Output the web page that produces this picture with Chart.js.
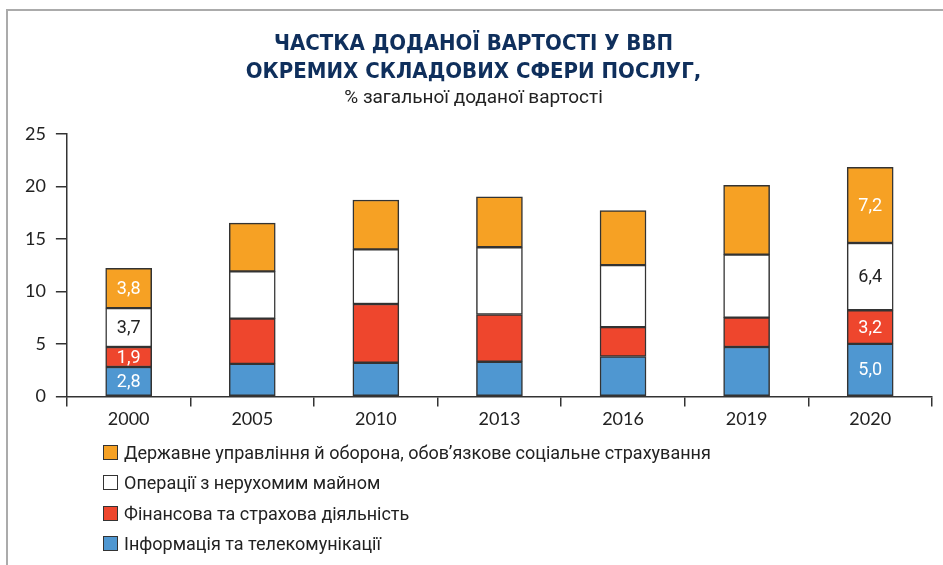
<!DOCTYPE html>
<html lang="uk">
<head>
<meta charset="utf-8">
<title>Частка доданої вартості у ВВП</title>
<script src="https://cdn.jsdelivr.net/npm/chart.js@4/dist/chart.umd.min.js"></script>
<style>
  body { margin: 0; background: #fff; overflow: hidden; }
  .wrap { position: relative; width: 943px; height: 565px; }
  .frame {
    position: absolute; left: 6px; top: 9px; width: 1000px; height: 600px;
    border-left: 2px solid #ababab; border-top: 2px solid #ababab;
  }
  canvas { position: absolute; left: 0; top: 0; }
  #legend {
    position: absolute; left: 103px; top: 437px;
    font-family: Roboto, sans-serif; font-size: 18px; color: #222;
  }
  #legend div { display: flex; align-items: center; height: 30.5px; }
  #legend span.box {
    display: inline-block; width: 13px; height: 13px; margin-right: 6px;
    border: 1px solid #333;
  }
</style>
</head>
<body>
<div class="wrap">
  <div class="frame"></div>
  <canvas id="chart" width="943" height="565"></canvas>
  <div id="legend"></div>
</div>
<script>
const years = ['2000', '2005', '2010', '2013', '2016', '2019', '2020'];

const info = [2.8, 3.1, 3.2, 3.3, 3.8, 4.7, 5.0];
const finance = [1.9, 4.3, 5.6, 4.5, 2.8, 2.8, 3.2];
const realEstate = [3.7, 4.5, 5.2, 6.4, 5.9, 6.0, 6.4];
const government = [3.8, 4.6, 4.7, 4.8, 5.2, 6.6, 7.2];

const yTicks = [0, 5, 10, 15, 20, 25];

// only the first and last bar carry value labels
const labelled = [0, 6];

const ctx = document.getElementById('chart');

const valueLabels = {
  id: 'valueLabels',
  afterDatasetsDraw (chart) {
    const c = chart.ctx;
    c.save();
    c.font = '18px Roboto, sans-serif';
    c.textAlign = 'center';
    c.textBaseline = 'middle';
    chart.data.datasets.forEach((ds, i) => {
      const meta = chart.getDatasetMeta(i);
      labelled.forEach(j => {
        const bar = meta.data[j];
        c.fillStyle = ds.labelColor;
        c.fillText(ds.data[j].toFixed(1).replace('.', ','), bar.x, (bar.y + bar.base) / 2 + 1);
      });
    });
    c.restore();
  }
};

const htmlLegend = {
  id: 'htmlLegend',
  afterUpdate (chart) {
    const box = document.getElementById('legend');
    box.innerHTML = '';
    chart.data.datasets.slice().reverse().forEach(ds => {
      const row = document.createElement('div');
      const sq = document.createElement('span');
      sq.className = 'box';
      sq.style.background = ds.backgroundColor;
      row.appendChild(sq);
      row.appendChild(document.createTextNode(ds.label));
      box.appendChild(row);
    });
  }
};

const barStyle = {
  borderColor: '#333',
  borderWidth: 1.5,
  borderSkipped: false,
  barThickness: 46
};

new Chart(ctx, {
  type: 'bar',
  data: {
    labels: years,
    datasets: [
      { label: 'Інформація та телекомунікації', data: info, backgroundColor: '#4f97d1', labelColor: '#fff', ...barStyle },
      { label: 'Фінансова та страхова діяльність', data: finance, backgroundColor: '#ee462d', labelColor: '#fff', ...barStyle },
      { label: 'Операції з нерухомим майном', data: realEstate, backgroundColor: '#ffffff', labelColor: '#222', ...barStyle },
      { label: 'Державне управління й оборона, обов’язкове соціальне страхування', data: government, backgroundColor: '#f6a124', labelColor: '#fff', ...barStyle }
    ]
  },
  options: {
    responsive: false,
    animation: false,
    layout: {
      padding: { left: 15, right: 11, top: 0, bottom: 133 }
    },
    plugins: {
      legend: { display: false },
      tooltip: { enabled: false },
      title: {
        display: true,
        text: ['ЧАСТКА ДОДАНОЇ ВАРТОСТІ У ВВП', 'ОКРЕМИХ СКЛАДОВИХ СФЕРИ ПОСЛУГ,'],
        color: '#0f2f5c',
        font: { family: '"Liberation Sans Narrow", "DejaVu Sans Condensed", sans-serif', size: 22, weight: 'bold', lineHeight: 1.25 },
        padding: { top: 31, bottom: 0 }
      },
      subtitle: {
        display: true,
        text: '% загальної доданої вартості',
        color: '#222',
        font: { family: 'Roboto, sans-serif', size: 19 },
        padding: { top: 1, bottom: 24 }
      }
    },
    scales: {
      x: {
        stacked: true,
        border: { color: '#333', width: 1.5 },
        grid: { drawOnChartArea: false, offset: true, color: '#333', lineWidth: 1.5, tickLength: 10 },
        ticks: { color: '#222', padding: 2, font: { family: 'Lato, sans-serif', size: 18 } }
      },
      y: {
        stacked: true,
        min: 0,
        max: 25,
        afterBuildTicks (axis) {
          axis.ticks = yTicks.map(v => ({ value: v }));
        },
        border: { color: '#333', width: 1.5 },
        grid: { drawOnChartArea: false, color: '#333', lineWidth: 1.5, tickLength: 11 },
        ticks: { color: '#222', padding: 10, font: { family: 'Lato, sans-serif', size: 18 } }
      }
    }
  },
  plugins: [valueLabels, htmlLegend]
});
</script>
</body>
</html>
